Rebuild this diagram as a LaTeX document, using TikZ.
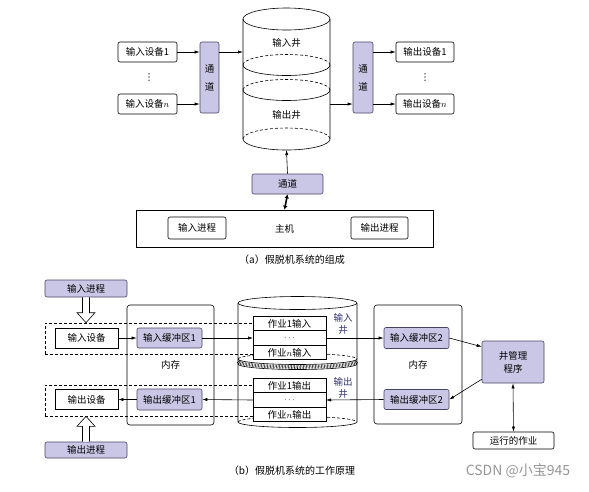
\documentclass[tikz,border=0pt]{standalone}
\usepackage{fontspec}
\setmainfont{Noto Sans CJK SC}
\newfontfamily\symfont{DejaVu Sans}
\usetikzlibrary{arrows.meta,calc,positioning}
\definecolor{spoolpurple}{RGB}{202,198,230}
\definecolor{spooledge}{RGB}{70,68,100}
\definecolor{wellblue}{RGB}{50,50,110}
\definecolor{marksgray}{RGB}{150,150,150}

\begin{document}
\begin{tikzpicture}
    [x=1pt,y=1pt,line width=0.6pt,
     >={Latex[length=5pt,width=3.2pt]},
     font=\fontsize{9.5}{11.5}\selectfont,
     devbox/.style={rectangle,draw,rounded corners=2pt,fill=white,inner sep=0pt},
     plainbox/.style={rectangle,draw,fill=white,inner sep=0pt},
     chanbox/.style={rectangle,draw=spooledge,fill=spoolpurple,rounded corners=2pt,inner sep=0pt},
     membox/.style={rectangle,draw,rounded corners=3pt,inner sep=0pt},
     jobrow/.style={rectangle,draw,fill=white,minimum width=73pt,minimum height=14.5pt,inner sep=0pt,outer sep=0pt},
     dashbox/.style={rectangle,draw,dash pattern=on 3pt off 2pt,inner sep=0pt},
     welltext/.style={text=wellblue,align=center,font=\fontsize{9.5}{12}\selectfont}]

    \useasboundingbox (0,0) rectangle (589,-491);

% (a) composition
\node[devbox,minimum width=59pt,minimum height=20pt] (indev1) at (147.5,-52) {输入设备1};
\node[inner sep=0pt,font=\symfont\fontsize{9.5}{11.5}\selectfont] (indots) at (149,-78) {⋮};
\node[devbox,minimum width=59pt,minimum height=20pt] (indevn) at (147.5,-104) {输入设备$n$};
\node[chanbox,minimum width=19pt,minimum height=71pt,align=center,font=\fontsize{9.5}{18}\selectfont] (chanL) at (209.5,-77.5) {通\\道};

\draw (286.5,-19) ellipse[x radius=43.5,y radius=11];
\draw (243,-19) -- (243,-139) arc[start angle=180,end angle=360,x radius=43.5,y radius=11] -- (330,-19);
\draw[dash pattern=on 3pt off 2pt] (243,-139) arc[start angle=180,end angle=0,x radius=43.5,y radius=11];
\draw (243,-65) arc[start angle=180,end angle=360,x radius=43.5,y radius=10.5];
\draw[dash pattern=on 3pt off 2pt] (243,-65) arc[start angle=180,end angle=0,x radius=43.5,y radius=10.5];
\draw (243,-90) arc[start angle=180,end angle=360,x radius=43.5,y radius=10.5];
\draw[dash pattern=on 3pt off 2pt] (243,-90) arc[start angle=180,end angle=0,x radius=43.5,y radius=10.5];
\node (inwell) at (286.5,-43) {输入井};
\node (outwell) at (286.5,-115) {输出井};
\coordinate (cylAin) at (243,-52);
\coordinate (cylAout) at (330,-104);
\coordinate (cylAbot) at (286.5,-150);

\node[chanbox,minimum width=20pt,minimum height=71pt,align=center,font=\fontsize{9.5}{18}\selectfont] (chanR) at (363,-77.5) {通\\道};
\node[devbox,minimum width=58pt,minimum height=20pt] (outdev1) at (425,-52) {输出设备1};
\node[inner sep=0pt,font=\symfont\fontsize{9.5}{11.5}\selectfont] (outdots) at (425,-78) {⋮};
\node[devbox,minimum width=58pt,minimum height=20pt] (outdevn) at (425,-104) {输出设备$n$};

\node[chanbox,minimum width=71pt,minimum height=20pt] (chanB) at (287.5,-184) {通道};
\node[rectangle,draw,minimum width=297pt,minimum height=37pt] (host) at (284.5,-228.5) {主机};
\node[devbox,minimum width=58pt,minimum height=22pt] (inproc) at (197,-228) {输入进程};
\node[devbox,minimum width=57pt,minimum height=22pt] (outproc) at (379.5,-228) {输出进程};
\node[font=\fontsize{10}{12}\selectfont] (capA) at (292,-260) {（a）假脱机系统的组成};

\draw[->] (indev1.east) -- (indev1.east -| chanL.west);
\draw[->] (indevn.east) -- (indevn.east -| chanL.west);
\draw[->] (chanL.east |- cylAin) -- (cylAin);
\draw[->] (cylAout) -- (cylAout -| chanR.west);
\draw[->] (chanR.east |- outdev1) -- (outdev1.west);
\draw[->] (chanR.east |- outdevn) -- (outdevn.west);
\draw[->] (chanB.north) -- (cylAbot);
\draw[{Latex[length=4pt,width=4.5pt]}-{Latex[length=4pt,width=4.5pt]},line width=1.6pt] (chanB.south) -- (host.north);

% (b) working principle
\draw (297.5,-303) ellipse[x radius=59.5,y radius=6.5];
\draw (238,-303) -- (238,-422) arc[start angle=180,end angle=360,x radius=59.5,y radius=5.5] -- (357,-303);
\draw[dash pattern=on 3pt off 2pt] (238,-422) arc[start angle=180,end angle=0,x radius=59.5,y radius=5.5];
\draw[dash pattern=on 3pt off 2pt] (238,-359) arc[start angle=180,end angle=0,x radius=59.5,y radius=5.5];
\draw (238,-359) arc[start angle=180,end angle=360,x radius=59.5,y radius=5.5];
\draw (238,-364) arc[start angle=180,end angle=360,x radius=59.5,y radius=5.5];
\draw[line width=3.6pt,dash pattern=on 0.5pt off 1pt] (238,-361.5) arc[start angle=180,end angle=360,x radius=59.5,y radius=5.5];

\node[membox,minimum width=87pt,minimum height=120pt] (memL) at (170.5,-365) {内存};
\node[membox,minimum width=88pt,minimum height=119pt] (memR) at (418,-364.5) {内存};
\node[dashbox,minimum width=208pt,minimum height=31pt] (dashIn) at (149,-338.5) {};
\node[dashbox,minimum width=208pt,minimum height=31pt] (dashOut) at (149,-400.5) {};

\node[jobrow] (jin1) at (289.5,-323.5) {作业1输入};
\node[jobrow,below=0pt of jin1] (jindots) {$\cdots$};
\node[jobrow,below=0pt of jindots] (jinn) {作业$n$输入};
\node[jobrow] (jout1) at (289.5,-385.5) {作业1输出};
\node[jobrow,below=0pt of jout1] (joutdots) {$\cdots$};
\node[jobrow,below=0pt of joutdots] (joutn) {作业$n$输出};
\node[welltext] (inwellB) at (343,-324) {输入\\井};
\node[welltext] (outwellB) at (343,-388) {输出\\井};

\node[chanbox,minimum width=82pt,minimum height=17pt] (inprocB) at (86,-288.5) {输入进程};
\node[plainbox,minimum width=63pt,minimum height=20pt] (indevB) at (86.5,-338) {输入设备};
\node[plainbox,minimum width=63pt,minimum height=20pt] (outdevB) at (86.5,-399.5) {输出设备};
\node[chanbox,minimum width=82pt,minimum height=16pt] (outprocB) at (86,-450) {输出进程};
\node[chanbox,minimum width=65pt,minimum height=20pt] (inbuf1) at (169.5,-338) {输入缓冲区1};
\node[chanbox,minimum width=65pt,minimum height=21pt] (outbuf1) at (169.5,-399.5) {输出缓冲区1};
\node[chanbox,minimum width=65pt,minimum height=21pt] (inbuf2) at (416.5,-338) {输入缓冲区2};
\node[chanbox,minimum width=65pt,minimum height=20pt] (outbuf2) at (416.5,-399.5) {输出缓冲区2};
\node[chanbox,minimum width=62pt,minimum height=42pt,align=center,font=\fontsize{9.5}{13}\selectfont] (spoolmgr) at (513,-362) {井管理\\程序};
\node[devbox,minimum width=81pt,minimum height=17pt] (runjob) at (513.5,-440.5) {运行的作业};

\draw[->] (indevB.east) -- (inbuf1.west);
\draw[->] (inbuf1.east) -- (jindots.west);
\draw[->] (jindots.east) -- (inbuf2.west);
\draw[->] (inbuf2.east) -- ($(spoolmgr.north west)+(0,-6)$);
\draw[->] ($(spoolmgr.south west)+(0,4)$) -- (outbuf2.east);
\draw[->] (outbuf2.west) -- (joutdots.east);
\draw[->] (joutdots.west) -- (outbuf1.east);
\draw[->] (outbuf1.west) -- (outdevB.east);
\draw[<->] (spoolmgr.south) -- (runjob.north);

\coordinate (ha1) at (inprocB.south);
\coordinate (ha2) at (inprocB.south |- dashIn.north);
\draw[fill=white] ($(ha1)+(-3.5,0)$) -- ($(ha2)+(-3.5,10)$) -- ($(ha2)+(-9,10)$) -- (ha2) -- ($(ha2)+(9,10)$) -- ($(ha2)+(3.5,10)$) -- ($(ha1)+(3.5,0)$);
\coordinate (ha3) at (outprocB.north);
\coordinate (ha4) at (outprocB.north |- dashOut.south);
\draw[fill=white] ($(ha3)+(-3.5,0)$) -- ($(ha4)+(-3.5,-10)$) -- ($(ha4)+(-9,-10)$) -- (ha4) -- ($(ha4)+(9,-10)$) -- ($(ha4)+(3.5,-10)$) -- ($(ha3)+(3.5,0)$);

\node[font=\fontsize{10}{12}\selectfont] (capB) at (292,-471) {（b）假脱机系统的工作原理};
\node[text=marksgray,font=\fontsize{14}{16}\selectfont] (mark) at (518,-471) {CSDN @小宝945};

  \end{tikzpicture}
\end{document}
